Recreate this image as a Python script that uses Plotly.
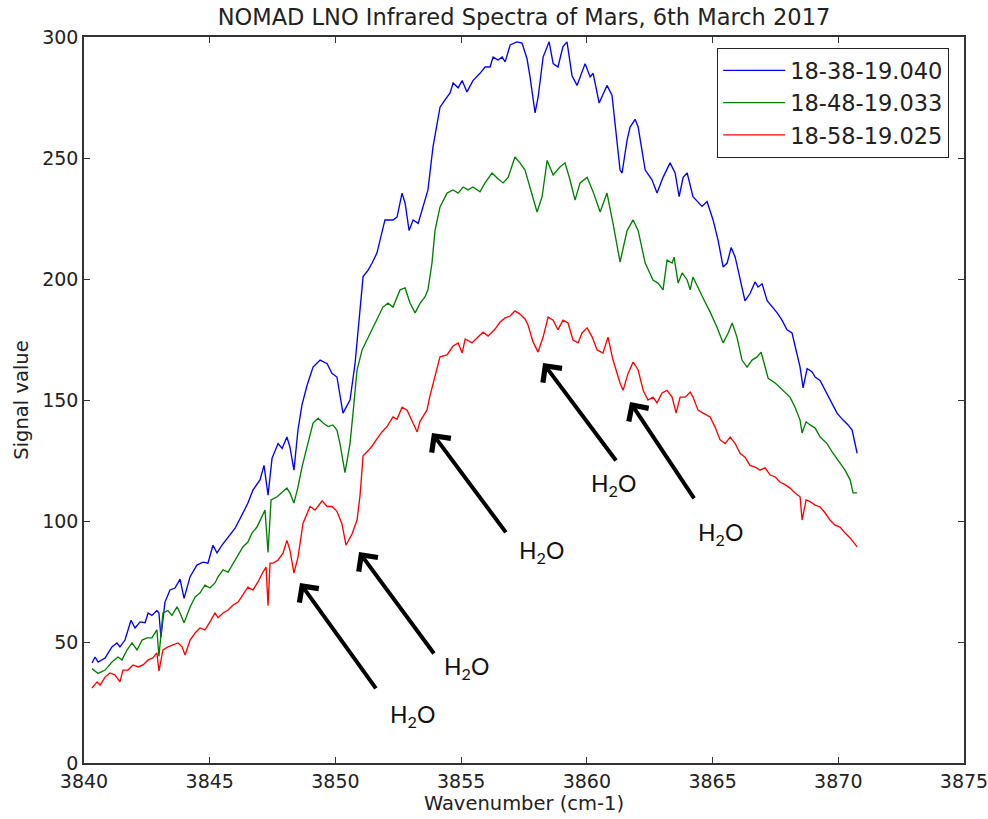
import plotly.graph_objects as go

# ---- data ----
series_names = ["18-38-19.040", "18-48-19.033", "18-58-19.025"]

wn_blue = [3840.32, 3840.44, 3840.56, 3840.84, 3841.11, 3841.31, 3841.43, 3841.63, 3841.87, 3842.03,
           3842.23, 3842.43, 3842.55, 3842.70, 3842.90, 3842.98, 3843.06, 3843.22, 3843.42, 3843.62,
           3843.82, 3843.98, 3844.22, 3844.49, 3844.73, 3844.93, 3845.13, 3845.29, 3845.49, 3845.73,
           3846.01, 3846.28, 3846.52, 3846.72, 3847.00, 3847.16, 3847.32, 3847.48, 3847.72, 3847.88,
           3848.07, 3848.19, 3848.35, 3848.51, 3848.67, 3848.87, 3849.11, 3849.39, 3849.67, 3849.86,
           3850.06, 3850.30, 3850.58, 3850.78, 3850.90, 3851.10, 3851.30, 3851.46, 3851.65, 3851.85,
           3851.97, 3852.29, 3852.45, 3852.65, 3852.77, 3852.93, 3853.09, 3853.29, 3853.56, 3853.68,
           3853.88, 3854.04, 3854.16, 3854.36, 3854.56, 3854.68, 3854.88, 3855.04, 3855.23, 3855.47,
           3855.75, 3855.95, 3856.15, 3856.27, 3856.47, 3856.63, 3856.75, 3856.95, 3857.22, 3857.42,
           3857.62, 3857.74, 3857.94, 3858.06, 3858.26, 3858.50, 3858.66, 3858.85, 3859.05, 3859.21,
           3859.41, 3859.61, 3859.93, 3860.13, 3860.25, 3860.49, 3860.80, 3861.00, 3861.32, 3861.40,
           3861.60, 3861.72, 3861.92, 3862.04, 3862.32, 3862.59, 3862.79, 3863.03, 3863.31, 3863.51,
           3863.67, 3863.83, 3863.99, 3864.22, 3864.58, 3864.78, 3865.02, 3865.22, 3865.42, 3865.58,
           3865.74, 3865.90, 3866.09, 3866.29, 3866.49, 3866.69, 3866.81, 3866.97, 3867.17, 3867.37,
           3867.57, 3867.76, 3867.96, 3868.16, 3868.36, 3868.48, 3868.60, 3868.76, 3868.96, 3869.08,
           3869.28, 3869.48, 3869.67, 3869.95, 3870.19, 3870.39, 3870.55, 3870.75]
sig_blue = [41.3, 43.8, 41.7, 43.4, 48, 49.6, 48, 50.8, 59, 55.8,
            58.3, 58, 62, 61, 63, 62, 52, 66.5, 71.5, 72.3,
            76, 68, 77, 81.8, 83, 82.6, 90, 86.8, 90, 93.4,
            97, 102.5, 107.4, 112.8, 117, 123, 110.7, 126, 132, 130,
            134.7, 130.6, 121, 137.6, 148, 156, 163.6, 166.5, 165, 161,
            159.5, 144.6, 150, 165, 179, 201, 203.7, 206.6, 210.7, 220,
            224.4, 224.4, 225.6, 235.5, 231.4, 220, 224.4, 223, 232.6, 236.8,
            254.5, 264.5, 271, 274, 276.9, 281, 279, 282, 277.3, 282,
            285, 287.6, 287.6, 291.7, 290.5, 291.7, 289.7, 296.7, 298, 297.5,
            291, 283.5, 268.6, 275, 291.7, 298, 289, 287.6, 296, 298,
            284, 280, 289, 283.5, 285, 272.7, 280, 276, 245, 243.8,
            257.4, 262.8, 266, 262.8, 245, 241, 235.5, 242, 248, 243.8,
            234, 242, 243.8, 234, 230, 232, 224.4, 216, 205, 206.6,
            213, 209, 200.8, 191, 194, 198.8, 196.7, 198, 191, 188.4,
            186, 183, 179, 177.7, 169.4, 163.6, 155, 163, 161.6, 159.5,
            158, 154, 150, 144.6, 141.7, 139.7, 137.6, 128]

wn_green = [3840.32, 3840.56, 3840.84, 3841.11, 3841.35, 3841.51, 3841.71, 3841.91, 3842.11, 3842.31,
            3842.51, 3842.70, 3842.90, 3842.98, 3843.14, 3843.34, 3843.50, 3843.70, 3843.82, 3843.98,
            3844.22, 3844.42, 3844.61, 3844.81, 3845.01, 3845.21, 3845.33, 3845.53, 3845.73, 3845.93,
            3846.13, 3846.32, 3846.52, 3846.68, 3846.88, 3847.08, 3847.20, 3847.32, 3847.44, 3847.68,
            3847.88, 3848.07, 3848.19, 3848.35, 3848.51, 3848.67, 3848.87, 3849.11, 3849.31, 3849.51,
            3849.71, 3849.90, 3850.06, 3850.18, 3850.38, 3850.58, 3850.70, 3850.86, 3851.06, 3851.26,
            3851.46, 3851.65, 3851.89, 3852.09, 3852.29, 3852.57, 3852.77, 3852.97, 3853.17, 3853.37,
            3853.56, 3853.68, 3853.84, 3853.96, 3854.16, 3854.44, 3854.68, 3854.88, 3855.08, 3855.27,
            3855.47, 3855.75, 3855.95, 3856.23, 3856.43, 3856.67, 3856.87, 3857.14, 3857.34, 3857.54,
            3857.74, 3858.02, 3858.22, 3858.42, 3858.66, 3858.93, 3859.13, 3859.33, 3859.53, 3859.73,
            3860.01, 3860.25, 3860.53, 3860.80, 3861.04, 3861.32, 3861.60, 3861.84, 3862.04, 3862.32,
            3862.63, 3862.83, 3863.03, 3863.19, 3863.39, 3863.47, 3863.63, 3863.79, 3863.99, 3864.11,
            3864.22, 3864.50, 3864.70, 3864.90, 3865.18, 3865.42, 3865.62, 3865.78, 3865.97, 3866.17,
            3866.37, 3866.57, 3866.77, 3866.93, 3867.09, 3867.21, 3867.49, 3867.69, 3867.88, 3868.08,
            3868.28, 3868.48, 3868.56, 3868.72, 3868.88, 3869.08, 3869.28, 3869.55, 3869.79, 3870.07,
            3870.27, 3870.47, 3870.59, 3870.75]
sig_green = [39, 37, 38.4, 41.7, 43.8, 42.6, 46.7, 49.6, 46.7, 50.8,
             51.7, 51.7, 55, 44, 62, 63, 61, 64.5, 62, 57.9,
             64.5, 68.6, 70.2, 73.5, 72.3, 74.4, 76.9, 79.8, 78.9, 82.6,
             86, 89.3, 91.3, 95, 97.5, 101.7, 104.5, 87, 108.7, 110,
             112, 113.6, 111.6, 107.4, 114, 122.3, 130.6, 140.5, 142.5, 140.5,
             139, 139.7, 137.6, 132, 120, 132, 144.6, 162.4, 170.7, 174.8,
             179, 183, 188.4, 190, 188.4, 195.5, 196.3, 190, 186, 190,
             192.6, 195.5, 206.6, 220, 229.8, 235.5, 236.8, 235.5, 238, 236.8,
             238, 236, 239.7, 243.8, 241.7, 239.7, 242, 250.4, 248, 245,
             237.5, 227.7, 234, 249, 243, 246.3, 248, 241, 232.6, 239.7,
             242, 236, 227.7, 235.5, 223, 207, 220, 224.4, 220, 206.6,
             199.6, 198.3, 195.5, 207.8, 206.6, 209, 198.3, 202.5, 199.6, 195.5,
             200.8, 194.5, 190.5, 186.4, 180, 173.6, 177.7, 181.8, 176, 166.5,
             163.6, 166.5, 167.8, 169.8, 163.6, 159, 157, 155, 152.9, 151.2,
             147, 141.7, 136.4, 141, 139.7, 138.4, 134.7, 132, 128, 124,
             121, 117, 111.6, 111.6]

wn_red = [3840.32, 3840.52, 3840.64, 3840.84, 3841.03, 3841.23, 3841.43, 3841.55, 3841.75, 3841.95,
          3842.15, 3842.35, 3842.55, 3842.74, 3842.90, 3842.98, 3843.14, 3843.34, 3843.54, 3843.74,
          3843.90, 3844.02, 3844.22, 3844.42, 3844.61, 3844.81, 3845.01, 3845.21, 3845.33, 3845.53,
          3845.73, 3845.93, 3846.13, 3846.32, 3846.52, 3846.72, 3846.92, 3847.12, 3847.24, 3847.32,
          3847.40, 3847.52, 3847.72, 3847.92, 3848.07, 3848.19, 3848.35, 3848.51, 3848.71, 3848.99,
          3849.19, 3849.47, 3849.67, 3849.86, 3850.06, 3850.26, 3850.42, 3850.66, 3850.86, 3850.98,
          3851.10, 3851.30, 3851.46, 3851.65, 3851.85, 3852.05, 3852.29, 3852.45, 3852.65, 3852.85,
          3853.05, 3853.25, 3853.37, 3853.48, 3853.64, 3853.76, 3853.96, 3854.16, 3854.44, 3854.68,
          3854.88, 3855.04, 3855.16, 3855.43, 3855.63, 3855.87, 3856.07, 3856.35, 3856.55, 3856.75,
          3856.95, 3857.14, 3857.34, 3857.54, 3857.66, 3857.86, 3858.06, 3858.26, 3858.46, 3858.66,
          3858.85, 3859.05, 3859.25, 3859.45, 3859.65, 3859.81, 3860.01, 3860.21, 3860.41, 3860.64,
          3860.84, 3861.04, 3861.32, 3861.44, 3861.64, 3861.84, 3862.04, 3862.24, 3862.43, 3862.63,
          3862.79, 3862.99, 3863.19, 3863.39, 3863.55, 3863.71, 3863.91, 3864.11, 3864.22, 3864.42,
          3864.62, 3864.90, 3865.10, 3865.30, 3865.50, 3865.70, 3865.90, 3866.09, 3866.29, 3866.49,
          3866.69, 3866.89, 3867.09, 3867.29, 3867.49, 3867.69, 3867.88, 3868.08, 3868.28, 3868.48,
          3868.56, 3868.72, 3868.88, 3869.08, 3869.28, 3869.48, 3869.67, 3869.87, 3870.07, 3870.27,
          3870.47, 3870.75]
sig_red = [31, 33.5, 32.2, 35.5, 37.2, 36.4, 33.5, 38.4, 38.4, 40.5,
           39.7, 40.5, 42.6, 43.4, 45.5, 38, 46.7, 48, 48.8, 49.6,
           48, 44.6, 50.8, 53.7, 55.8, 55, 58.3, 62, 60, 62,
           63.2, 65.3, 66.5, 69.4, 72.7, 71.5, 74.8, 78.9, 81, 65,
           82.6, 82.6, 83.9, 86.8, 92, 88, 78.5, 85, 99, 106,
           104.5, 108.3, 106, 106, 104, 98.8, 90, 94.6, 100.4, 110.7,
           126.9, 129, 131, 133.9, 136.8, 139, 143, 142, 147, 145.8,
           141.3, 136.8, 141.3, 143.4, 145.8, 151.7, 160.3, 167.8, 168.6, 172.3,
           173.6, 169.4, 175.2, 173.6, 175.6, 178, 176.4, 179.3, 182.2, 183.9,
           184.7, 186.8, 185.5, 183.5, 181, 174, 169.8, 176, 184.3, 183,
           179, 183, 181.8, 174.8, 173.6, 177.7, 179.8, 176, 170.7, 169.4,
           176, 166.5, 157, 154, 161, 165.7, 162.4, 154, 150, 151.2,
           148.8, 152.9, 154, 151.2, 144.6, 151.2, 151.2, 153.3, 151.2, 145.8,
           144.6, 143, 138.8, 133.5, 132, 134.7, 132, 128, 126.4, 123,
           122.3, 121, 122, 119, 118.2, 116, 115, 113.6, 111.6, 110,
           100.4, 108.7, 108, 106.6, 105.8, 103.3, 100.4, 98.3, 97.5, 95,
           93, 89.3]

# H2O absorption markers: arrow tip (wavenumber, signal) and label position
arrow_tip_wn = [3848.59, 3850.94, 3853.84, 3858.26, 3861.72]
arrow_tip_sig = [74.4, 87.2, 136.4, 165.3, 149.2]
label_wn = [3853.05, 3855.23, 3858.18, 3861.04, 3865.30]
label_sig = [19.8, 39.3, 87.2, 114.9, 95.0]
label_text = "H<sub>2</sub>O"

x_ticks = [3840, 3845, 3850, 3855, 3860, 3865, 3870, 3875]
y_ticks = [0, 50, 100, 150, 200, 250, 300]

# ---- figure ----
FONT = "DejaVu Sans"
TXT = "#222222"
colors = ["#0000ff", "#008000", "#ff0000"]
W, H = 988, 819

fig = go.Figure()
for name, xs, ys, c in zip(series_names, [wn_blue, wn_green, wn_red],
                           [sig_blue, sig_green, sig_red], colors):
    fig.add_trace(go.Scatter(x=xs, y=ys, mode="lines", name=name,
                             line=dict(color=c, width=1.35)))

annotations = []
arrow_offsets = [(77, 107), (76, 103), (75, 101), (74, 99), (65, 98)]
for tx, ty, (ax, ay) in zip(arrow_tip_wn, arrow_tip_sig, arrow_offsets):
    annotations.append(dict(x=tx, y=ty, xref="x", yref="y", text="",
                            showarrow=True, ax=ax, ay=ay,
                            arrowhead=4, arrowsize=1.15, arrowwidth=4,
                            arrowcolor="#000000", standoff=0, startstandoff=0))
for lx, ly in zip(label_wn, label_sig):
    annotations.append(dict(x=lx, y=ly, xref="x", yref="y", text=label_text,
                            showarrow=False,
                            font=dict(family="Lato", size=23, color="#111111")))

axis_common = dict(showline=True, linecolor="#333333", linewidth=1.5, mirror="ticks",
                   ticks="inside", ticklen=6, tickwidth=1, tickcolor="#333333",
                   showgrid=False, zeroline=False, automargin=False,
                   ticklabeloverflow="allow",
                   tickfont=dict(family=FONT, size=19, color=TXT))

fig.update_layout(
    width=W, height=H,
    margin=dict(l=84, r=24, t=37, b=56),
    paper_bgcolor="white", plot_bgcolor="white",
    title=dict(text="NOMAD LNO Infrared Spectra of Mars, 6th March 2017",
               x=0.5, xref="paper", xanchor="center",
               y=1 - 17 / H, yref="container", yanchor="middle",
               font=dict(family=FONT, size=22.5, color=TXT)),
    xaxis=dict(range=[3840, 3875], tickvals=x_ticks,
               title=dict(text="Wavenumber (cm-1)", standoff=6,
                          font=dict(family=FONT, size=19.5, color=TXT)),
               **axis_common),
    yaxis=dict(range=[0, 300], tickvals=y_ticks,
               title=dict(text="Signal value", standoff=8,
                          font=dict(family=FONT, size=19.5, color=TXT)),
               **axis_common),
    legend=dict(x=(717 - 84) / 880, y=(763 - 48) / 726, xanchor="left", yanchor="top",
                bgcolor="white", bordercolor=TXT, borderwidth=1.2,
                font=dict(family=FONT, size=22.5, color=TXT),
                itemwidth=62, tracegroupgap=0),
    annotations=annotations,
    showlegend=True,
)

# remove the page's default body margin so the 988x819 figure fills the window
fig.write_html("out.html",
               config={"displayModeBar": False},
               post_script="document.body.style.margin='0';"
                           "document.body.style.overflow='hidden';")
